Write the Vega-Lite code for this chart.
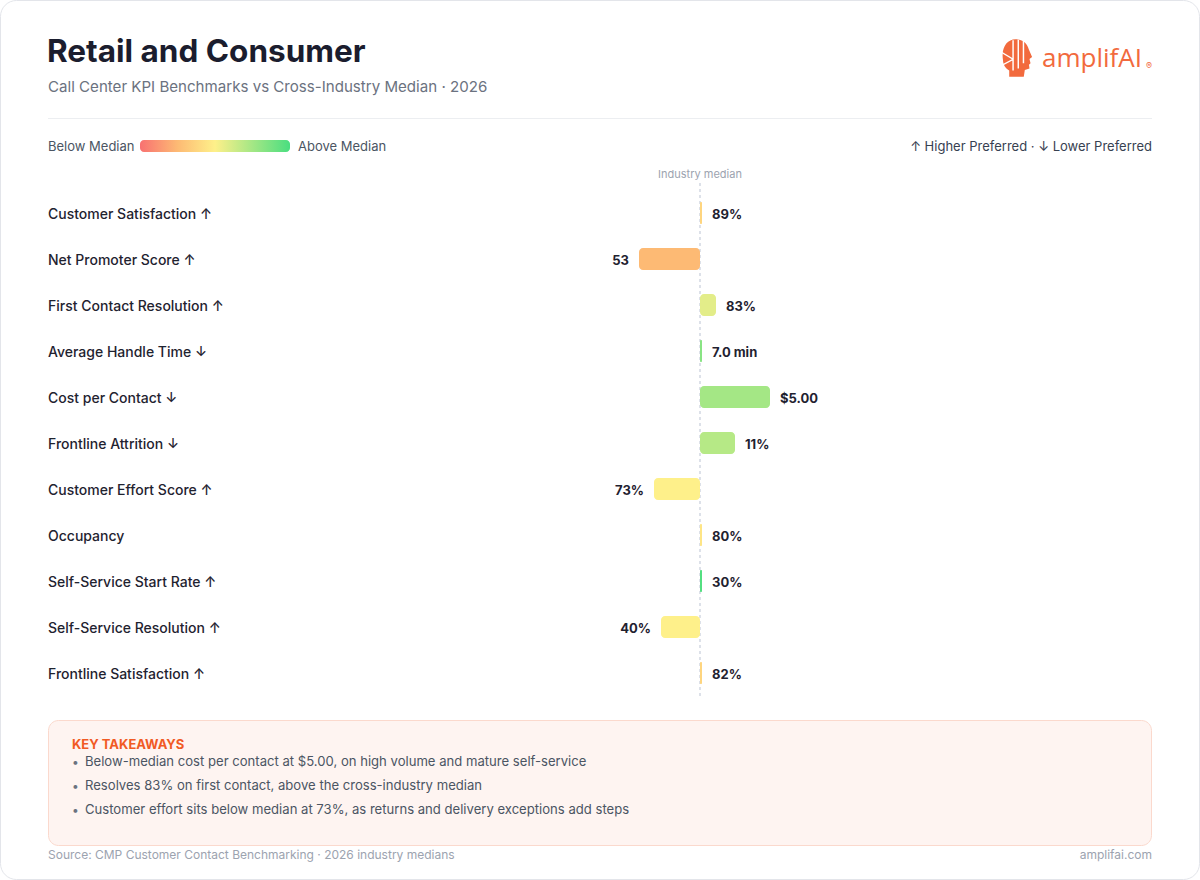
{
  "$schema": "https://vega.github.io/schema/vega-lite/v6.json",
  "width": 1200,
  "height": 880,
  "padding": 0,
  "autosize": {"type": "none"},
  "background": "#ffffff",
  "config": {"view": {"stroke": null}, "font": "Inter"},
  "datasets": {
    "kpis": [
      {"metric": "Customer Satisfaction", "label": "Customer Satisfaction ↑", "value": "89%", "gap": 2, "score": -0.25},
      {"metric": "Net Promoter Score", "label": "Net Promoter Score ↑", "value": "53", "gap": -61, "score": -0.5},
      {"metric": "First Contact Resolution", "label": "First Contact Resolution ↑", "value": "83%", "gap": 16, "score": 0.15},
      {"metric": "Average Handle Time", "label": "Average Handle Time ↓", "value": "7.0 min", "gap": 2, "score": 0.65},
      {"metric": "Cost per Contact", "label": "Cost per Contact ↓", "value": "$5.00", "gap": 70, "score": 0.5},
      {"metric": "Frontline Attrition", "label": "Frontline Attrition ↓", "value": "11%", "gap": 35, "score": 0.4},
      {"metric": "Customer Effort Score", "label": "Customer Effort Score ↑", "value": "73%", "gap": -46, "score": 0},
      {"metric": "Occupancy", "label": "Occupancy", "value": "80%", "gap": 2, "score": -0.1},
      {"metric": "Self-Service Start Rate", "label": "Self-Service Start Rate ↑", "value": "30%", "gap": 2, "score": 0.95},
      {"metric": "Self-Service Resolution", "label": "Self-Service Resolution ↑", "value": "40%", "gap": -39, "score": 0},
      {"metric": "Frontline Satisfaction", "label": "Frontline Satisfaction ↑", "value": "82%", "gap": 2, "score": -0.25}
    ]
  },
  "data": {"name": "kpis"},
  "layer": [
    {
      "data": {"values": [{}]},
      "mark": {"type": "rect", "fill": "#ffffff", "stroke": "#e3e5ea", "strokeWidth": 1, "cornerRadius": 16},
      "encoding": {"x": {"value": 0.5}, "x2": {"value": 1199.5}, "y": {"value": 0.5}, "y2": {"value": 879.5}}
    },
    {
      "data": {"values": [{}]},
      "mark": {"type": "text", "text": "Retail and Consumer", "align": "left", "baseline": "alphabetic", "fontSize": 31.5, "fontWeight": 700, "fill": "#1b1d2e"},
      "encoding": {"x": {"value": 47}, "y": {"value": 62}}
    },
    {
      "data": {"values": [{}]},
      "mark": {"type": "text", "text": "Call Center KPI Benchmarks vs Cross-Industry Median · 2026", "align": "left", "baseline": "alphabetic", "fontSize": 15.1, "fill": "#6b7280"},
      "encoding": {"x": {"value": 48}, "y": {"value": 92}}
    },
    {
      "data": {"values": [{}]},
      "mark": {"type": "point", "filled": true, "size": 1400, "fill": "#f26a3d", "strokeWidth": 0, "opacity": 1,
        "shape": "M-0.722,0.111 C-0.833,-0.556 -0.5,-1 -0.056,-1 C0.278,-1 0.556,-0.833 0.667,-0.444 L0.833,-0.056 L0.694,0.056 L0.75,0.278 L0.667,0.361 L0.694,0.556 L0.444,0.639 L0.389,1 L-0.389,1 L-0.389,0.667 C-0.611,0.556 -0.722,0.333 -0.722,0.111 Z"},
      "encoding": {"x": {"value": 1016.5}, "y": {"value": 58}}
    },
    {
      "data": {"values": [{}]},
      "mark": {"type": "point", "filled": true, "size": 1400, "fill": "#ffffff", "strokeWidth": 0, "opacity": 1,
        "shape": "M-0.222,-0.944 L-0.144,-0.944 L-0.144,0.667 L-0.222,0.667 Z M0.056,-0.972 L0.133,-0.972 L0.133,0.556 L0.056,0.556 Z M0.333,-0.917 L0.411,-0.917 L0.411,0.278 L0.333,0.278 Z M-0.78,-0.33 L-0.222,0.0 L-0.222,0.08 L-0.78,-0.25 Z M-0.75,0.33 L-0.222,0.05 L-0.222,0.13 L-0.75,0.41 Z"},
      "encoding": {"x": {"value": 1016.5}, "y": {"value": 58}}
    },
    {
      "data": {"values": [{}]},
      "mark": {"type": "text", "text": "amplifAI", "align": "left", "baseline": "alphabetic", "font": "Open Sans", "fontSize": 26, "letterSpacing": 1.2, "fill": "#f26a3d"},
      "encoding": {"x": {"value": 1042}, "y": {"value": 67}}
    },
    {
      "data": {"values": [{}]},
      "mark": {"type": "text", "text": "®", "align": "left", "baseline": "alphabetic", "fontSize": 9, "fill": "#f26a3d"},
      "encoding": {"x": {"value": 1146}, "y": {"value": 69}}
    },
    {
      "data": {"values": [{}]},
      "mark": {"type": "rule", "stroke": "#eceef1", "strokeWidth": 1},
      "encoding": {"x": {"value": 48}, "x2": {"value": 1152}, "y": {"value": 118.5}}
    },
    {
      "data": {"values": [{}]},
      "mark": {"type": "text", "text": "Below Median", "align": "left", "baseline": "middle", "dy": 1, "fontSize": 13, "fill": "#4b5563"},
      "encoding": {"x": {"value": 48}, "y": {"value": 146}}
    },
    {
      "data": {"values": [{}]},
      "mark": {"type": "rect", "cornerRadius": 4,
        "fill": {"gradient": "linear", "x1": 0, "y1": 0, "x2": 1, "y2": 0,
          "stops": [
            {"offset": 0, "color": "#f87171"},
            {"offset": 0.25, "color": "#fdba74"},
            {"offset": 0.5, "color": "#fef08a"},
            {"offset": 1, "color": "#4ade80"}
          ]}},
      "encoding": {"x": {"value": 140}, "x2": {"value": 290}, "y": {"value": 140}, "y2": {"value": 152}}
    },
    {
      "data": {"values": [{}]},
      "mark": {"type": "text", "text": "Above Median", "align": "left", "baseline": "middle", "dy": 1, "fontSize": 13, "fill": "#4b5563"},
      "encoding": {"x": {"value": 298}, "y": {"value": 146}}
    },
    {
      "data": {"values": [{}]},
      "mark": {"type": "text", "text": "↑ Higher Preferred · ↓ Lower Preferred", "align": "right", "baseline": "middle", "dy": 1, "fontSize": 13, "fill": "#374151"},
      "encoding": {"x": {"value": 1152}, "y": {"value": 146}}
    },
    {
      "data": {"values": [{}]},
      "mark": {"type": "rule", "stroke": "#dde1e9", "strokeWidth": 2, "strokeDash": [3, 3]},
      "encoding": {
        "x": {"datum": 0, "type": "quantitative", "scale": {"domain": [-700, 500], "range": [0, 1200], "nice": false}, "axis": null},
        "y": {"value": 183},
        "y2": {"value": 697}
      }
    },
    {
      "data": {"values": [{}]},
      "mark": {"type": "text", "text": "Industry median", "align": "center", "baseline": "middle", "dy": 1, "fontSize": 11, "fill": "#9ca3af"},
      "encoding": {
        "x": {"datum": 0, "type": "quantitative"},
        "y": {"value": 174}
      }
    },
    {
      "mark": {"type": "bar", "height": 22, "cornerRadius": 4},
      "encoding": {
        "x": {"field": "gap", "type": "quantitative"},
        "y": {"field": "metric", "type": "nominal",
          "scale": {"domain": ["Customer Satisfaction", "Net Promoter Score", "First Contact Resolution", "Average Handle Time", "Cost per Contact", "Frontline Attrition", "Customer Effort Score", "Occupancy", "Self-Service Start Rate", "Self-Service Resolution", "Frontline Satisfaction"],
            "range": [190, 696], "paddingInner": 0, "paddingOuter": 0},
          "axis": null},
        "color": {"field": "score", "type": "quantitative",
          "scale": {"domain": [-1, -0.5, 0, 1], "range": ["#f87171", "#fdba74", "#fef08a", "#4ade80"], "interpolate": "rgb"},
          "legend": null}
      }
    },
    {
      "transform": [{"filter": "datum.gap >= 0"}],
      "mark": {"type": "text", "align": "left", "baseline": "middle", "dx": 10, "dy": 1.5, "fontSize": 13, "fontWeight": 700, "fill": "#1f2230"},
      "encoding": {
        "x": {"field": "gap", "type": "quantitative"},
        "y": {"field": "metric", "type": "nominal"},
        "text": {"field": "value"}
      }
    },
    {
      "transform": [{"filter": "datum.gap < 0"}],
      "mark": {"type": "text", "align": "right", "baseline": "middle", "dx": -10, "dy": 1.5, "fontSize": 13, "fontWeight": 700, "fill": "#1f2230"},
      "encoding": {
        "x": {"field": "gap", "type": "quantitative"},
        "y": {"field": "metric", "type": "nominal"},
        "text": {"field": "value"}
      }
    },
    {
      "mark": {"type": "text", "align": "left", "baseline": "middle", "dy": 1.5, "fontSize": 14, "fontWeight": 500, "fill": "#1f2330"},
      "encoding": {
        "x": {"value": 48},
        "y": {"field": "metric", "type": "nominal"},
        "text": {"field": "label"}
      }
    },
    {
      "data": {"values": [{}]},
      "mark": {"type": "rect", "fill": "#fef4f1", "stroke": "#fbd9cd", "strokeWidth": 1, "cornerRadius": 10},
      "encoding": {"x": {"value": 48.5}, "x2": {"value": 1151.5}, "y": {"value": 720.5}, "y2": {"value": 845.5}}
    },
    {
      "data": {"values": [{}]},
      "mark": {"type": "text", "text": "KEY TAKEAWAYS", "align": "left", "baseline": "middle", "dy": 1, "fontSize": 13, "fontWeight": 700, "letterSpacing": 0.3, "fill": "#f15a24"},
      "encoding": {"x": {"value": 72}, "y": {"value": 744}}
    },
    {
      "data": {"values": [{}]},
      "mark": {"type": "text", "text": ["•", "•", "•"], "align": "left", "baseline": "middle", "dy": 1, "fontSize": 12, "lineHeight": 24, "fill": "#6b7280"},
      "encoding": {"x": {"value": 72}, "y": {"value": 761}}
    },
    {
      "data": {"values": [{}]},
      "mark": {"type": "text",
        "text": ["Below-median cost per contact at $5.00, on high volume and mature self-service", "Resolves 83% on first contact, above the cross-industry median", "Customer effort sits below median at 73%, as returns and delivery exceptions add steps"],
        "align": "left", "baseline": "middle", "dy": 1, "fontSize": 13.1, "lineHeight": 24, "fill": "#4b5563"},
      "encoding": {"x": {"value": 85}, "y": {"value": 761}}
    },
    {
      "data": {"values": [{}]},
      "mark": {"type": "text", "text": "Source: CMP Customer Contact Benchmarking · 2026 industry medians", "align": "left", "baseline": "middle", "dy": 1, "fontSize": 12, "fill": "#9ca3af"},
      "encoding": {"x": {"value": 48}, "y": {"value": 854}}
    },
    {
      "data": {"values": [{}]},
      "mark": {"type": "text", "text": "amplifai.com", "align": "right", "baseline": "middle", "dy": 1, "fontSize": 12, "fill": "#9ca3af"},
      "encoding": {"x": {"value": 1152}, "y": {"value": 854}}
    }
  ]
}
